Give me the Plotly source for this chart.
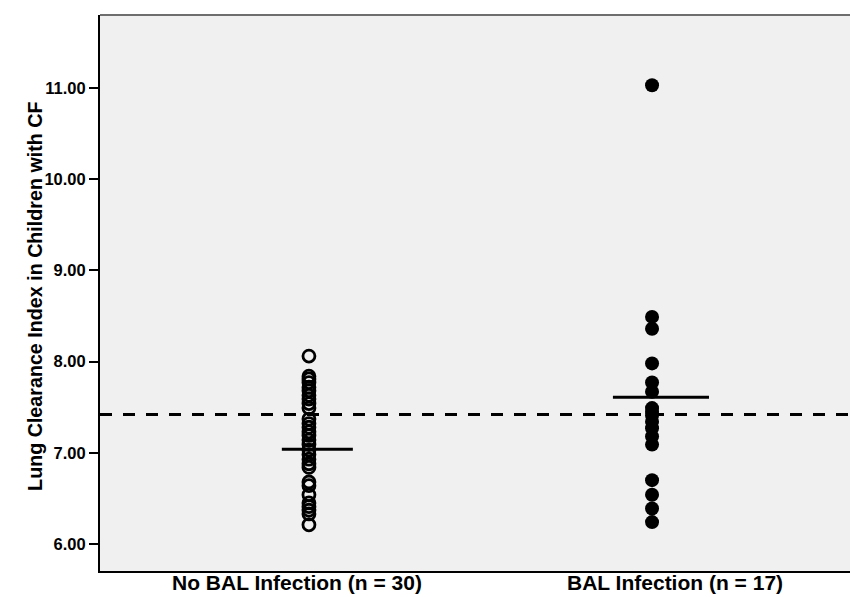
import plotly.graph_objects as go

categories = ["No BAL Infection (n = 30)", "BAL Infection (n = 17)"]
no_bal = [8.06, 7.84, 7.81, 7.77, 7.72, 7.68, 7.63, 7.59, 7.54, 7.49,
          7.37, 7.32, 7.28, 7.23, 7.19, 7.14, 7.09, 7.03, 6.98, 6.93,
          6.88, 6.84, 6.68, 6.64, 6.54, 6.45, 6.41, 6.37, 6.33, 6.21]
bal = [11.03, 8.49, 8.36, 7.98, 7.77, 7.67, 7.49, 7.41, 7.34, 7.27,
       7.18, 7.09, 6.70, 6.54, 6.39, 6.24, 7.45]
group_means = [7.04, 7.61]
reference_line = 7.42
tick_vals = [6, 7, 8, 9, 10, 11]
tick_text = ["6.00", "7.00", "8.00", "9.00", "10.00", "11.00"]
y_title = "Lung Clearance Index in Children with CF"

x_pos = [1, 2]
label_pos = [0.965, 2.067]
mean_extent = [(0.921, 1.128), (1.886, 2.166)]

fig = go.Figure()
fig.add_trace(go.Scatter(
    x=[x_pos[0]] * len(no_bal), y=no_bal, mode="markers",
    marker=dict(symbol="circle-open", size=12, color="black",
                line=dict(width=2.8, color="black")),
    showlegend=False, hoverinfo="y"))
fig.add_trace(go.Scatter(
    x=[x_pos[1]] * len(bal), y=bal, mode="markers",
    marker=dict(symbol="circle", size=14, color="black"),
    showlegend=False, hoverinfo="y"))

for (x0, x1), m in zip(mean_extent, group_means):
    fig.add_shape(type="line", x0=x0, x1=x1, y0=m, y1=m, xref="x", yref="y",
                  line=dict(color="black", width=3))

fig.add_shape(type="line", x0=0, x1=1, xref="paper", y0=reference_line,
              y1=reference_line, yref="y",
              line=dict(color="black", width=3, dash="12px,11px"))
fig.add_shape(type="line", x0=0, x1=1, xref="paper", y0=1, y1=1, yref="paper",
              line=dict(color="#6e6e6e", width=2))

fig.add_annotation(text="<b>" + y_title + "</b>", xref="paper", yref="paper",
                   x=-0.104, y=0.493, textangle=-90, showarrow=False,
                   font=dict(size=19.7, family="Liberation Sans", color="black"))

for lp, cat in zip(label_pos, categories):
    fig.add_annotation(text="<b>" + cat + "</b>", xref="x", yref="paper",
                       x=lp, y=-0.0198, yanchor="middle", showarrow=False,
                       font=dict(size=21, family="Liberation Sans", color="black"))

fig.update_layout(
    width=850, height=597,
    margin=dict(l=100, r=0, t=15, b=26, autoexpand=False),
    paper_bgcolor="white", plot_bgcolor="#f0f0f0",
    font=dict(family="Liberation Sans, Arial, sans-serif", color="black"),
    xaxis=dict(range=[0.391, 2.577], showticklabels=False,
               showgrid=False, zeroline=False, showline=True, linecolor="black",
               linewidth=2, ticks="", automargin=False),
    yaxis=dict(range=[5.704, 11.80], tickvals=tick_vals, ticktext=tick_text,
               showgrid=False, zeroline=False, showline=True, linecolor="black",
               linewidth=2, ticks="outside", ticklen=9, tickwidth=1.5, tickcolor="black",
               automargin=False,
               tickfont=dict(size=16.5, family="Liberation Sans", color="black", weight="bold")),
)

fig.write_html("out.html")
